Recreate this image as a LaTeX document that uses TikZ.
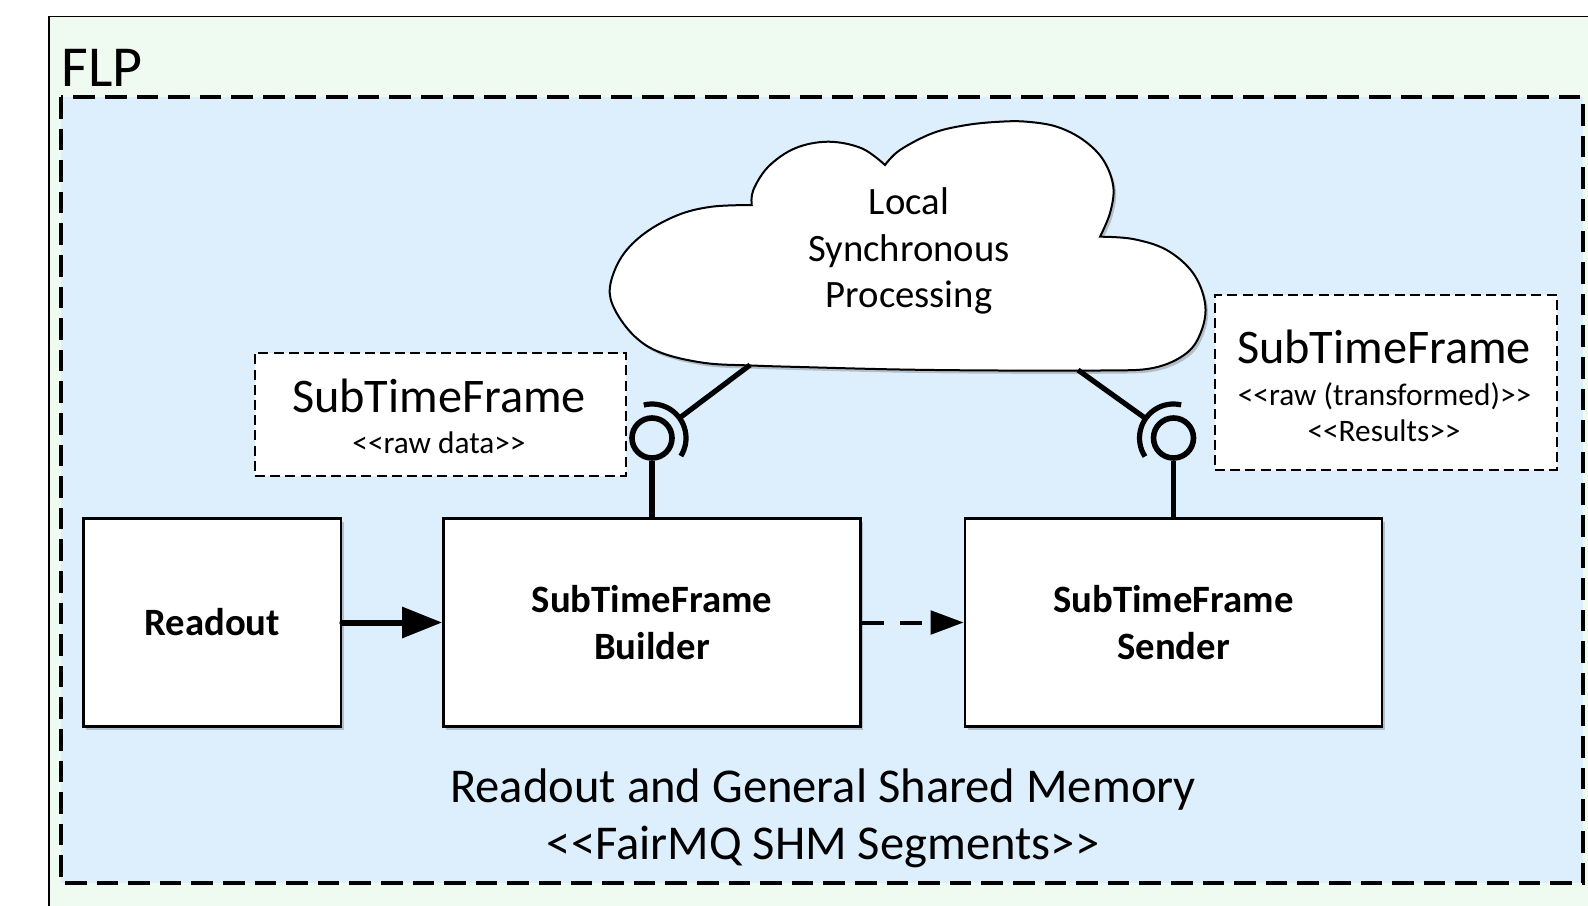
\documentclass[tikz,border=0pt]{standalone}
\usepackage{fontspec}
\setmainfont{Carlito}
\usetikzlibrary{arrows.meta,shadows}

\definecolor{flpbg}{RGB}{239,250,241}
\definecolor{shmbg}{RGB}{221,239,253}

% stereotype brackets without the guillemet ligature
\newcommand{\stlo}{<{}<}
\newcommand{\sthi}{>{}>}

\begin{document}
\begin{tikzpicture}[x=0.5pt,y=-0.5pt,
  softshadow/.style={drop shadow={shadow xshift=1.3pt, shadow yshift=-1.6pt, opacity=0.35, fill=black!60}},
  comp/.style={draw, line width=1.35pt, fill=white, minimum height=104.2pt,
    inner sep=0pt, align=center, softshadow,
    font=\fontsize{19.35}{23.35}\selectfont\bfseries},
  note/.style={draw, line width=1pt, dash pattern=on 5pt off 2.6pt, fill=white, inner sep=0pt},
  bigtxt/.style={inner sep=0pt, anchor=base, font=\fontsize{24.15}{28}\selectfont},
  smalltxt/.style={inner sep=0pt, anchor=base, font=\fontsize{15.65}{18}\selectfont},
  ball/.style={circle, draw, line width=2.8pt, minimum size=20pt, inner sep=0pt},
  iface/.style={line width=2.6pt},
]
\useasboundingbox (0,0) rectangle (1588,905);
\clip (0,0) rectangle (1588,905);

% page and FLP frame
\fill[white] (0,0) rectangle (1588,905);
\draw[line width=0.7pt, fill=flpbg] (49,16.5) rectangle (1650,960);
\node[inner sep=0pt, anchor=base west, font=\fontsize{29}{33}\selectfont] (flp) at (61,86) {FLP};

% shared memory region
\draw[line width=1.6pt, dash pattern=on 10.8pt off 5pt, fill=shmbg] (61,97) rectangle (1583,883);

% SubTimeFrame notes
\node[note, minimum width=185.35pt, minimum height=61.65pt] (stfa) at (440.3,414.3) {};
\node[bigtxt] (stfatitle) at (439,412.5) {SubTimeFrame};
\node[smalltxt] (stfasub) at (439,453) {\stlo raw data\sthi};

\node[note, minimum width=170.85pt, minimum height=87.5pt] (stfb) at (1385.8,382.5) {};
\node[bigtxt] (stfbtitle) at (1384,363.5) {SubTimeFrame};
\node[smalltxt] (stfbsub) at (1384.5,405) {\stlo raw (transformed)\sthi};
\node[smalltxt] (stfbres) at (1384,441) {\stlo Results\sthi};

% processing cloud
\draw[line width=1pt, fill=white, softshadow]
  plot[smooth, tension=0.6] coordinates {(751.7,205) (753.3,190) (768.3,166.7) (795,148.3) (828.3,141.7) (861.7,148.3) (885,165)}
  -- plot[smooth, tension=0.6] coordinates {(885,165) (900,150) (933,133) (966.7,125) (1000,121.7) (1026.7,121.7) (1056.7,126.7) (1083.3,140) (1103.3,160) (1113.3,186.7) (1110,213) (1100,236.7)}
  -- plot[smooth, tension=0.6] coordinates {(1100,236.7) (1133,239) (1166.7,250) (1193,273) (1205,303) (1201.7,330) (1186.7,353) (1153,368) (1100,370.5) (1000,370.5) (900,369.5) (800,367) (751.7,365.5) (705,363) (661.7,353) (635,336.7) (615,310) (610,286.7) (621.7,256.7) (645,233) (678,215) (711.7,206.7) (751.7,205)}
  -- cycle;
\node[inner sep=0pt, align=center, font=\fontsize{19.35}{23.25}\selectfont] (cloudtxt) at (909,251)
  {Local\\Synchronous\\Processing};
\coordinate (cloudl) at (750,365);
\coordinate (cloudr) at (1078,370);

% components
\node[comp, minimum width=128.85pt] (readout) at (212.2,622.5) {Readout};
\node[comp, minimum width=208.5pt] (builder) at (652,622.5) {SubTimeFrame\\Builder};
\node[comp, minimum width=208.5pt] (sender) at (1173.5,622.5) {SubTimeFrame\\Sender};

% flows
\draw[line width=3pt, line cap=round, -{Triangle[length=20pt,width=15pt]}] (readout.east) -- (builder.west);
\draw[line width=2pt, dash pattern=on 11pt off 8.3pt, -{Triangle[length=16.5pt,width=11.7pt]}] (builder.east) -- (sender.west);

% provided / required interfaces of the builder
\node[ball] (bball) at (652,438) {};
\draw[iface] (bball.south) -- (builder.north);
\draw[iface] ([shift={(-32:17pt)}]bball.center) arc[start angle=-32, end angle=104, radius=17pt];
\coordinate (bsock) at ([shift={(36:17pt)}]bball.center);
\draw[iface] (bsock) -- (cloudl);

% provided / required interfaces of the sender
\node[ball] (sball) at (1173.5,438) {};
\draw[iface] (sball.south) -- (sender.north);
\draw[iface] ([shift={(77:17pt)}]sball.center) arc[start angle=77, end angle=213, radius=17pt];
\coordinate (ssock) at ([shift={(145:17pt)}]sball.center);
\draw[iface] (ssock) -- (cloudr);

% shared memory caption
\node[inner sep=0pt, align=center, font=\fontsize{24.3}{28.5}\selectfont] (shmtxt) at (823,818)
  {Readout and General Shared Memory\\\stlo FairMQ SHM Segments\sthi};
\end{tikzpicture}
\end{document}
